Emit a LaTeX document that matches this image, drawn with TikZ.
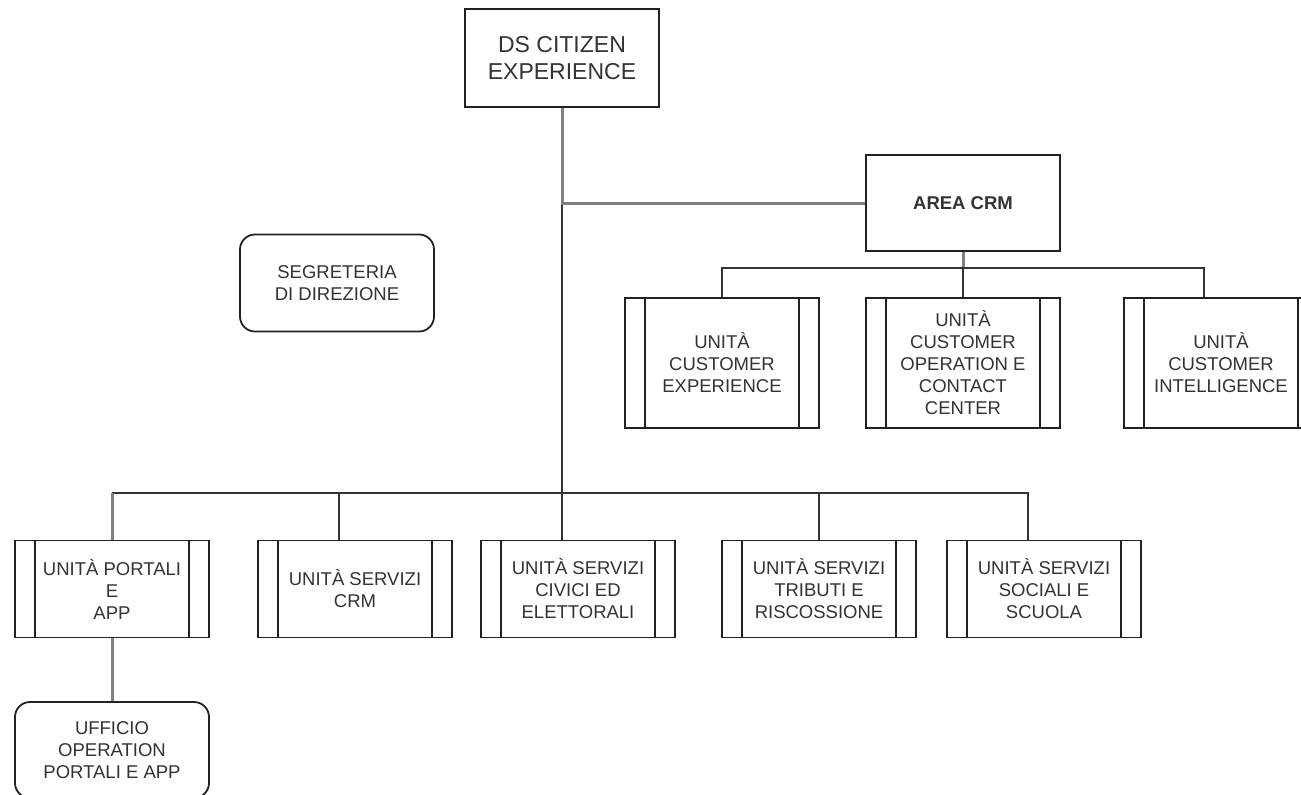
\documentclass[tikz,border=0pt]{standalone}
\usepackage{fontspec}
\setmainfont{Liberation Sans}
\usetikzlibrary{positioning, calc}
\definecolor{boxline}{RGB}{34, 34, 34}
\definecolor{linkdark}{RGB}{51, 51, 51}
\definecolor{linkgray}{RGB}{128, 128, 128}
\definecolor{labelgray}{RGB}{51, 51, 51}

\begin{document}
\begin{tikzpicture}[x=1pt, y=-1pt,
  box/.style={draw=boxline, line width=1.8pt, fill=white, minimum width=194pt, minimum height=97pt, align=center, inner sep=0pt, text=labelgray, font=\fontsize{18.5}{22}\selectfont},
  rbox/.style={box, rounded corners=15pt},
  ubox/.style={box, minimum height=130pt, path picture={
    \draw[boxline, line width=1.8pt]
      ([xshift=20pt]path picture bounding box.north west) -- ([xshift=20pt]path picture bounding box.south west)
      ([xshift=-20pt]path picture bounding box.north east) -- ([xshift=-20pt]path picture bounding box.south east);}},
  link/.style={draw=linkdark, line width=1.8pt},
  trunk/.style={draw=linkgray, line width=3pt}
]
  \useasboundingbox (0,0) rectangle (1301,795);

  \node[box, minimum height=98pt, font=\fontsize{23}{27}\selectfont] (ds) at (562, 58) {DS CITIZEN\\EXPERIENCE};
  \node[box, minimum height=96pt, font=\bfseries\fontsize{18.5}{22}\selectfont] (crm) at (963, 203) {AREA CRM};
  \node[rbox] (segr) at (337, 283) {SEGRETERIA\\DI DIREZIONE};

  \node[ubox] (cx) at (722, 363) {UNITÀ\\CUSTOMER\\EXPERIENCE};
  \node[ubox] (co) at (963, 363) {UNITÀ\\CUSTOMER\\OPERATION E\\CONTACT\\CENTER};
  \node[ubox] (ci) at (1221, 363) {UNITÀ\\CUSTOMER\\INTELLIGENCE};

  \node[ubox, minimum height=97pt] (portali) at (112, 589) {UNITÀ PORTALI\\E\\APP};
  \node[ubox, minimum height=97pt] (scrm) at (355, 589) {UNITÀ SERVIZI\\CRM};
  \node[ubox, minimum height=97pt] (civici) at (578, 589) {UNITÀ SERVIZI\\CIVICI ED\\ELETTORALI};
  \node[ubox, minimum height=97pt] (tributi) at (819, 589) {UNITÀ SERVIZI\\TRIBUTI E\\RISCOSSIONE};
  \node[ubox, minimum height=97pt] (sociali) at (1044, 589) {UNITÀ SERVIZI\\SOCIALI E\\SCUOLA};

  \node[rbox, minimum height=96pt] (ufficio) at (112, 750) {UFFICIO\\OPERATION\\PORTALI E APP};

  \coordinate (bus) at (0, 493);
  \coordinate (crmbus) at (0, 268);

  \draw[link] (ds.south) -- (ds.south |- civici.north);
  \draw[link] (ds.south |- bus) -- (portali.north |- bus);
  \foreach \u/\dx in {scrm/-16, tributi/0, sociali/-16}
    \draw[link] (ds.south |- bus) -| ([xshift=\dx pt]\u.north);
  \draw[trunk] (portali.north |- bus) -- (portali.north);
  \draw[trunk] (ds.south) |- (crm.west);
  \draw[trunk] (crm.south) -- (crm.south |- crmbus);
  \foreach \u/\dx in {cx/0, co/0, ci/-17}
    \draw[link] (crm.south |- crmbus) -| ([xshift=\dx pt]\u.north);
  \draw[trunk] (portali.south) -- (ufficio.north);
\end{tikzpicture}
\end{document}
